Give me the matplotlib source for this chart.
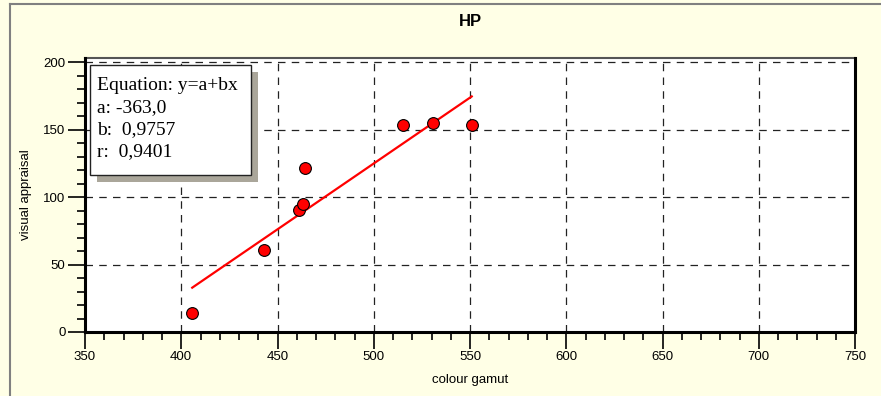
#!/usr/bin/env python3
import matplotlib
matplotlib.use('Agg')
import matplotlib.pyplot as plt
from matplotlib.lines import Line2D
from matplotlib.patches import Rectangle
from matplotlib.ticker import MultipleLocator
import numpy as np

colour_gamut = [405.7, 443.1, 461.3, 463.1, 464.4, 515.0, 530.9, 550.9]
visual_appraisal = [14.3, 60.5, 90.4, 95.0, 121.7, 153.6, 155.0, 153.1]
fit_a = -363.0
fit_b = 0.9757
fit_r = 0.9401
x_ticks = [350, 400, 450, 500, 550, 600, 650, 700, 750]
y_ticks = [0, 50, 100, 150, 200]

plt.rcParams['font.family'] = ['Liberation Sans', 'DejaVu Sans']

W, H = 881, 396
bg = '#ffffe6'

fig = plt.figure(figsize=(W / 100, H / 100), dpi=100, facecolor=bg)
ax = fig.add_axes([85 / W, 1 - 332 / H, 770 / W, 274 / H])
ax.set_facecolor('white')

# frame of the surrounding panel
fig.add_artist(Line2D([10 / W, 1], [1 - 4 / H, 1 - 4 / H], transform=fig.transFigure,
                      color='#808080', lw=1.5))
fig.add_artist(Line2D([10 / W, 10 / W], [0, 1 - 4 / H], transform=fig.transFigure,
                      color='#808080', lw=1.5))

ax.set_xlim(350, 750)
ax.set_ylim(0, 203)
ax.set_xticks(x_ticks)
ax.set_yticks(y_ticks)
ax.xaxis.set_minor_locator(MultipleLocator(10))
ax.yaxis.set_minor_locator(MultipleLocator(10))
ax.tick_params(which='major', direction='out', length=12, width=1.2, labelsize=9.5,
               colors='black')
ax.tick_params(which='minor', direction='out', length=5.5, width=1.2)
ax.tick_params(axis='x', pad=1.5)
ax.tick_params(axis='y', pad=2)

ax.grid(True, which='major', color='#222222', lw=0.9, linestyle=(0, (6, 5)))

for side in ['left', 'bottom', 'right']:
    ax.spines[side].set_linewidth(2.2)
    ax.spines[side].set_color('black')
    ax.spines[side].set_zorder(5)
ax.spines['top'].set_linewidth(1.5)
ax.spines['top'].set_color('#555555')

# regression line from the stated coefficients
xs = np.array([min(colour_gamut), max(colour_gamut)])
ax.plot(xs, fit_a + fit_b * xs, color='red', lw=1.6, zorder=3)
ax.scatter(colour_gamut, visual_appraisal, s=72, color='red', edgecolor='black',
           linewidth=0.8, zorder=4)

ax.set_xlabel('colour gamut', fontsize=9.5, va='center')
ax.xaxis.set_label_coords(0.5, -(380 - 332) / 274)
ax.set_ylabel('visual appraisal', fontsize=9.5, va='center')
ax.yaxis.set_label_coords((26 - 85) / 770, 0.5)

fig.text(470 / W, 1 - 21 / H, 'HP', ha='center', va='center', fontsize=12,
         fontweight='bold')

# equation box with shadow
bx, by, bw, bh = 90, 65, 161, 110
fig.add_artist(Rectangle(((bx + 7) / W, 1 - (by + bh + 7) / H), bw / W, bh / H,
                         transform=fig.transFigure, facecolor='#aaa69a',
                         edgecolor='none', zorder=5))
fig.add_artist(Rectangle((bx / W, 1 - (by + bh) / H), bw / W, bh / H,
                         transform=fig.transFigure, facecolor='white',
                         edgecolor='#222222', lw=1, zorder=6))
box_text = ('Equation: y=a+bx\n'
            f'a: {fit_a:.1f}'.replace('.', ',') + '\n'
            f'b:  {fit_b:.4f}'.replace('.', ',') + '\n'
            f'r:  {fit_r:.4f}'.replace('.', ','))
fig.text((bx + 7) / W, 1 - (by + 12) / H, box_text, ha='left', va='top',
         fontsize=14, family='Liberation Serif', linespacing=1.38, zorder=7)

fig.savefig('out.png', dpi=100, facecolor=bg)
